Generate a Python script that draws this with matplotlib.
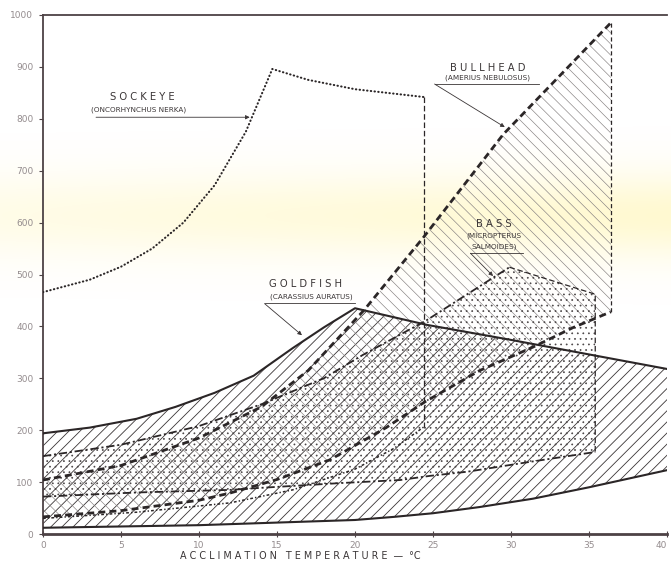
import numpy as np
import matplotlib.pyplot as plt
from matplotlib.patches import Polygon

plt.rcParams['font.family'] = ['DejaVu Sans']
plt.rcParams['hatch.linewidth'] = 0.6
plt.rcParams['lines.scale_dashes'] = False

# goldfish (Carassius auratus)
gold_up_t = [0, 3, 6, 8.5, 11, 13.5, 16, 18, 20, 24.6, 30, 35, 40]
gold_up_v = [194, 205, 222, 245, 272, 305, 358, 398, 435, 403, 374, 346, 318]
gold_lo_t = [0, 10, 20, 22.5, 25, 28, 31.4, 35, 40]
gold_lo_v = [12, 17, 27, 33, 40, 52, 68, 90, 123]

# bullhead (Amerius nebulosus)
bull_up_t = [0, 5, 10, 14, 17, 20.6, 24.4, 29.5, 36.4]
bull_up_v = [104, 132, 185, 245, 315, 432, 572, 770, 985]
bull_lo_t = [0, 5, 10, 12, 15, 18.4, 22, 24.5, 28, 31.4, 34, 36.4]
bull_lo_v = [33, 45, 65, 79, 105, 143, 205, 255, 315, 360, 398, 428]

# bass (Micropterus salmoides)
bass_up_t = [0, 5, 10, 14, 18, 20.5, 24.6, 29.9]
bass_up_v = [150, 172, 208, 250, 300, 345, 412, 514]
bass_rt_t = [29.9, 35.4, 35.4]
bass_rt_v = [514, 462, 158]
bass_lo_t = [0, 6, 12, 14, 19, 22.9, 24.8, 27.2, 31, 35.4]
bass_lo_v = [72, 80, 85, 89, 98, 104, 112, 120, 138, 158]

# sockeye (Oncorhynchus nerka)
sock_up_t = [0, 3, 5, 7, 9, 11, 13, 14.7, 17, 20, 24.4]
sock_up_v = [466, 490, 515, 550, 600, 672, 775, 896, 875, 857, 842]
sock_lo_t = [0, 6, 12, 16, 20, 22.5, 24.4]
sock_lo_v = [30, 42, 60, 85, 125, 165, 206]

xticks = [0, 5, 10, 15, 20, 25, 30, 35, 40]
yticks = [0, 100, 200, 300, 400, 500, 600, 700, 800, 900, 1000]

ink = '#2b2627'

fig = plt.figure(figsize=(6.71, 5.63), dpi=100)

# faint yellow stain across the middle of the sheet
bg = fig.add_axes([0, 0, 1, 1], zorder=-1)
yy, xx = np.mgrid[0:563, 0:671]
band = np.exp(-((yy - 215) / 42.0) ** 2) * (0.5 + 0.5 * xx / 671)
img = np.zeros((563, 671, 4))
img[..., 0] = 1.0
img[..., 1] = 0.94
img[..., 2] = 0.5
img[..., 3] = 0.36 * band
bg.imshow(img, aspect='auto', interpolation='bilinear')
bg.axis('off')

ax = fig.add_axes([43 / 671, 29 / 563, 624 / 671, 519 / 563])
ax.set_facecolor('none')


def outline(t_up, v_up, t_lo, v_lo, t_rt=(), v_rt=()):
    xs = list(t_up) + list(t_rt) + list(t_lo)[::-1]
    ys = list(v_up) + list(v_rt) + list(v_lo)[::-1]
    return np.column_stack([xs, ys])


gold = Polygon(outline(gold_up_t, gold_up_v, gold_lo_t, gold_lo_v),
               closed=True, facecolor='none', edgecolor='#3a3536',
               lw=0, hatch='///')
bull = Polygon(outline(bull_up_t, bull_up_v, bull_lo_t, bull_lo_v,
                       [36.4], [985]),
               closed=True, facecolor='none', edgecolor='#858080',
               lw=0, hatch='\\\\\\')
bass = Polygon(outline(bass_up_t, bass_up_v, bass_lo_t, bass_lo_v,
                       bass_rt_t, bass_rt_v),
               closed=True, facecolor='none', edgecolor='#4a4546',
               lw=0, hatch='...')
for p, hw in ((gold, 0.6), (bull, 0.45), (bass, 0.5)):
    try:
        p.set_hatch_linewidth(hw)
    except AttributeError:
        pass
    ax.add_patch(p)

# goldfish boundary
ax.plot(gold_up_t, gold_up_v, color=ink, lw=1.5, zorder=5)
ax.plot(gold_lo_t, gold_lo_v, color=ink, lw=1.5, zorder=5)

# bullhead boundary
ax.plot(bull_up_t, bull_up_v, color=ink, lw=2.0, dashes=(5, 3), zorder=5)
ax.plot(bull_lo_t, bull_lo_v, color=ink, lw=2.0, dashes=(5, 3), zorder=5)
ax.plot([36.4, 36.4], [985, 428], color=ink, lw=0.9, dashes=(3, 2), zorder=5)

# bass boundary
ax.plot(bass_up_t, bass_up_v, color=ink, lw=1.3, dashes=(6, 2, 1.5, 2), zorder=5)
ax.plot(bass_lo_t, bass_lo_v, color=ink, lw=1.3, dashes=(6, 2, 1.5, 2), zorder=5)
ax.plot(bass_rt_t, bass_rt_v, color=ink, lw=0.9, dashes=(4, 2), zorder=5)

# sockeye boundary
ax.plot(sock_up_t, sock_up_v, color=ink, lw=1.5, dashes=(0.3, 2.4),
        dash_capstyle='round', zorder=5)
ax.plot([24.4, 24.4], [842, 206], color=ink, lw=0.9, dashes=(4, 2), zorder=5)
ax.plot(sock_lo_t, sock_lo_v, color=ink, lw=1.1, dashes=(2, 1.5, 1, 1.5), zorder=5)

name_kw = dict(ha='center', va='center', color='#3a3536', fontsize=7.2, zorder=6)
sub_kw = dict(ha='center', va='center', color='#3a3536', fontsize=5.2, zorder=6)
arr = dict(arrowstyle='-|>', lw=0.6, color='#3a3536', mutation_scale=6,
           shrinkA=0, shrinkB=0)

ax.text(6.35, 842, 'S O C K E Y E', **name_kw)
ax.text(6.1, 817, '(ONCORHYNCHUS NERKA)', **sub_kw)
ax.annotate('', xy=(13.25, 803), xytext=(3.4, 803), arrowprops=arr)

ax.text(28.5, 898, 'B U L L H E A D', **name_kw)
ax.text(28.5, 879, '(AMERIUS NEBULOSUS)', **sub_kw)
ax.plot([25.1, 31.8], [868, 868], color='#3a3536', lw=0.6)
ax.annotate('', xy=(29.6, 784), xytext=(25.1, 867), arrowprops=arr)

ax.text(28.9, 598, 'B A S S', **name_kw)
ax.text(28.9, 574, '(MICROPTERUS', **sub_kw)
ax.text(28.9, 553, 'SALMOIDES)', **sub_kw)
ax.plot([27.4, 30.8], [542, 542], color='#3a3536', lw=0.6)
ax.annotate('', xy=(28.85, 497), xytext=(27.4, 541), arrowprops=arr)

ax.text(16.8, 482, 'G O L D F I S H', **name_kw)
ax.text(17.2, 457, '(CARASSIUS AURATUS)', **sub_kw)
ax.plot([14.2, 20.0], [445, 445], color='#3a3536', lw=0.6)
ax.annotate('', xy=(16.6, 383), xytext=(14.2, 444), arrowprops=arr)

ax.set_xlim(0, 40)
ax.set_ylim(0, 1000)
ax.set_xticks(xticks)
ax.set_yticks(yticks)
ax.tick_params(axis='both', colors='#948c8e', labelsize=6.5)
ax.tick_params(axis='y', direction='out', length=3, width=0.8, pad=4, color='#4d4245')
ax.tick_params(axis='x', direction='inout', length=4, width=0.8, pad=3, color='#4d4245')
# keep the last temperature label inside the sheet
ax.get_xticklabels()[-1].set_horizontalalignment('right')
for side in ('left', 'top'):
    ax.spines[side].set_color('#4d4245')
    ax.spines[side].set_linewidth(1.3)
ax.spines['bottom'].set_color('#4d4245')
ax.spines['bottom'].set_linewidth(2.0)
ax.spines['right'].set_visible(False)

fig.text(300 / 671, 1 - 556 / 563, 'A C C L I M A T I O N   T E M P E R A T U R E  —  °C',
         ha='center', va='center', fontsize=6.9, color='#3a3536')

fig.savefig('out.png', dpi=100)
